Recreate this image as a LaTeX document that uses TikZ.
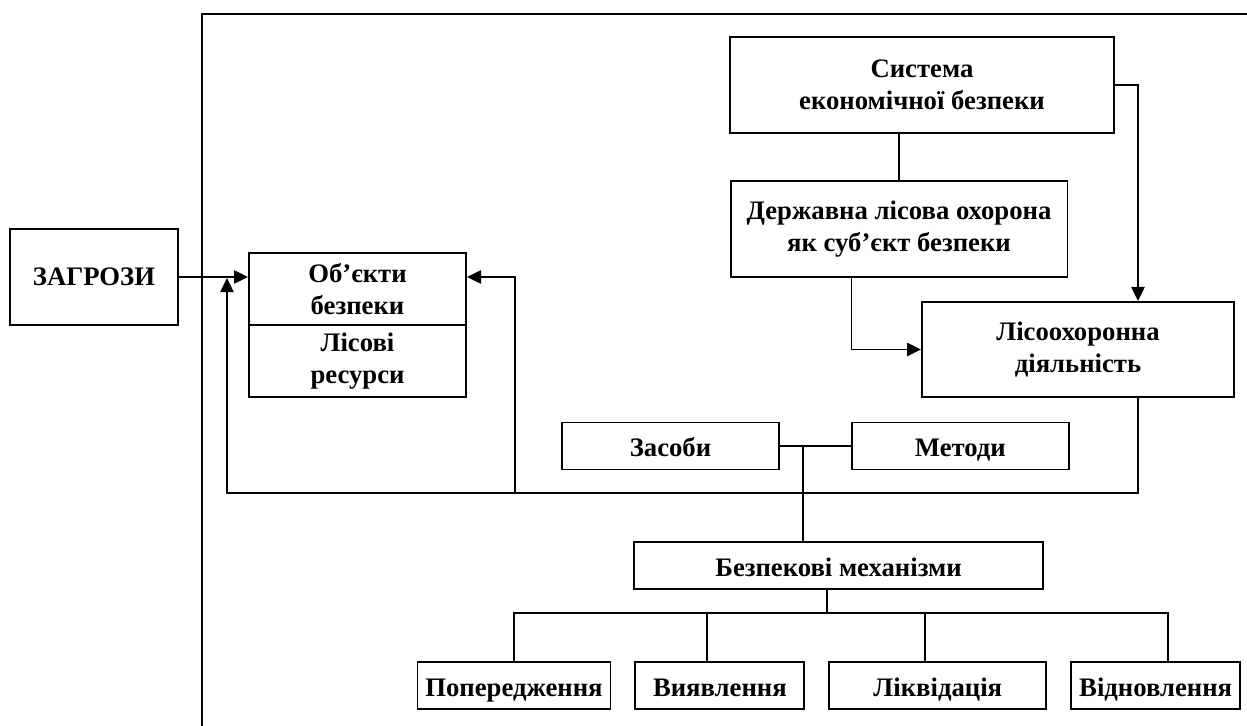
\documentclass[tikz,border=0pt]{standalone}
\usepackage{fontspec}
\setmainfont{Liberation Serif}
\usetikzlibrary{arrows.meta,positioning}
\tikzset{
  block/.style={rectangle, draw=black, line width=1.1pt, font=\bfseries\fontsize{15.2}{18.5}\selectfont, align=center, inner sep=2pt},
  tallBlock/.style={block, minimum height=1.92cm},
  flatBlock/.style={block, minimum height=0.94cm, text height=13pt, text depth=1pt},
  link/.style={line width=1.1pt}
}

\begin{document}
\begin{tikzpicture}[x=0.02cm, y=-0.02cm, >={Triangle[length=8pt, width=7.5pt]}]

\useasboundingbox (0,0) rectangle (1247,726);

% Frame
\draw[link] (202,726) -- (202,14) -- (1247,14);

% Threats and objects
\node[tallBlock, minimum width=3.36cm] (zag) at (94,277) {ЗАГРОЗИ};
\node[block, minimum width=4.34cm, minimum height=1.44cm] (obj) at (357.5,289) {Об’єкти\\безпеки};
\node[block, minimum width=4.34cm, minimum height=1.44cm, below=-1pt of obj] (res) {Лісові\\ресурси};

% Subjects
\node[tallBlock, minimum width=7.68cm] (sys) at (922,85) {Система\\економічної безпеки};
\node[tallBlock, minimum width=6.74cm] (derzh) at (899,229) {Державна лісова охорона\\як суб’єкт безпеки};
\node[block, minimum width=6.24cm, minimum height=1.9cm] (lis) at (1078,349.5) {Лісоохоронна\\діяльність};

% Means and methods
\node[flatBlock, minimum width=4.34cm] (zas) at (670.5,446) {Засоби};
\node[flatBlock, minimum width=4.34cm, right=1.42cm of zas] (met) {Методи};
\node[flatBlock, minimum width=8.18cm] (bez) at (838.5,565.5) {Безпекові механізми};

% Mechanisms
\node[flatBlock, minimum width=3.86cm] (pop) at (514,685.5) {Попередження};
\node[flatBlock, minimum width=3.38cm, right=0.46cm of pop] (vyav) {Виявлення};
\node[flatBlock, minimum width=4.34cm, right=0.46cm of vyav] (likv) {Ліквідація};
\node[flatBlock, minimum width=3.38cm, right=0.46cm of likv] (vidn) {Відновлення};

% Helper points
\coordinate (back) at (227,493);
\coordinate (hit) at (227,278);
\coordinate (ret) at (515,493);
\coordinate (jn) at (803,446);
\coordinate (bus) at (827,613);

% Arrows
\draw[link, ->] (zag.east) -- (zag.east -| obj.west);
\draw[link] (sys.south -| derzh.north) -- (derzh.north);
\draw[link, ->] (sys.east) -| ([xshift=1.2cm]lis.north);
\draw[link, ->] ([xshift=-0.95cm]derzh.south) |- (lis.west);
\draw[link, ->] ([xshift=1.2cm]lis.south) |- (back) -- (hit);
\draw[link, ->] (ret) |- (zag.east -| obj.east);

% Tree of mechanisms
\draw[link] (zas.east) -- (met.west);
\draw[link] (jn) -- (jn |- bez.north);
\draw[link] (bez.south -| bus) -- (bus);
\foreach \n/\s in {pop/0, vyav/-0.25, likv/-0.25, vidn/0.25} {
  \draw[link] (bus) -| ([xshift=\s cm]\n.north);
}

\end{tikzpicture}
\end{document}
